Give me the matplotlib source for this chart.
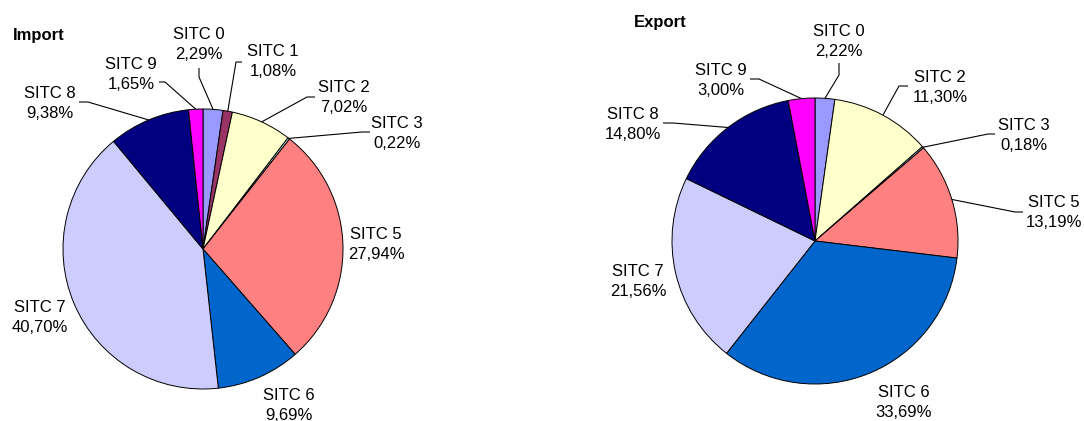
import numpy as np
import matplotlib
matplotlib.use("Agg")
import matplotlib.pyplot as plt

plt.rcParams['font.family'] = ['Liberation Sans', 'DejaVu Sans']

# ---- data ----
imp_categories = ['SITC 0', 'SITC 1', 'SITC 2', 'SITC 3', 'SITC 5', 'SITC 6', 'SITC 7', 'SITC 8', 'SITC 9']
imp_values = [2.29, 1.08, 7.02, 0.22, 27.94, 9.69, 40.70, 9.38, 1.65]

exp_categories = ['SITC 0', 'SITC 2', 'SITC 3', 'SITC 5', 'SITC 6', 'SITC 7', 'SITC 8', 'SITC 9']
exp_values = [2.22, 11.30, 0.18, 13.19, 33.69, 21.56, 14.80, 3.00]

colors = {'SITC 0': '#9999FF', 'SITC 1': '#993366', 'SITC 2': '#FFFFCC', 'SITC 3': '#CCFFFF',
          'SITC 5': '#FF8080', 'SITC 6': '#0066CC', 'SITC 7': '#CCCCFF', 'SITC 8': '#000080',
          'SITC 9': '#FF00FF'}

# ---- layout (pixel coordinates) ----
W, H = 1084, 421
imp_center, imp_radius = (203, 249), 140
exp_center, exp_radius = (815, 241), 143

imp_label_pos = {'SITC 0': (199, 43), 'SITC 1': (273, 60), 'SITC 2': (344, 96), 'SITC 3': (397, 132),
                 'SITC 5': (376, 243), 'SITC 6': (289, 404), 'SITC 7': (40, 316), 'SITC 8': (50, 102),
                 'SITC 9': (131, 73)}
imp_leaders = {'SITC 0': [(199, 77), (199, 68)], 'SITC 1': [(236, 62), (242, 62)],
               'SITC 2': [(307, 97), (315, 97)], 'SITC 3': [(362, 132), (370, 132)],
               'SITC 8': [(88, 102), (79, 102)], 'SITC 9': [(165, 82), (159, 82)]}

exp_label_pos = {'SITC 0': (839, 40), 'SITC 2': (940, 86), 'SITC 3': (1024, 134), 'SITC 5': (1054, 211),
                 'SITC 6': (904, 401), 'SITC 7': (638, 280), 'SITC 8': (633, 123), 'SITC 9': (721, 79)}
exp_leaders = {'SITC 0': [(839, 75), (839, 63)], 'SITC 2': [(899, 86), (908, 86)],
               'SITC 3': [(988, 134), (995, 134)], 'SITC 5': [(1015, 212), (1023, 212)],
               'SITC 8': [(673, 123), (663, 123)], 'SITC 9': [(759, 79), (750, 79)]}

FS = 12

fig = plt.figure(figsize=(W / 100, H / 100), dpi=100)
ax = fig.add_axes([0, 0, 1, 1])


def fmt(v):
    return f"{v:.2f}".replace('.', ',') + '%'


def draw_pie(cats, vals, center, radius, label_pos, leaders):
    ax.pie(vals, colors=[colors[c] for c in cats], center=center, radius=radius,
           startangle=-90, counterclock=True,
           wedgeprops=dict(edgecolor='black', linewidth=0.7))
    vals = np.asarray(vals, dtype=float)
    frac = vals / vals.sum()
    cum = np.cumsum(frac) - frac / 2
    for c, v, f in zip(cats, vals, cum):
        lx, ly = label_pos[c]
        ax.text(lx, ly - 4, c, ha='center', va='baseline', fontsize=FS, color='black')
        ax.text(lx, ly + 16, fmt(v), ha='center', va='baseline', fontsize=FS, color='black')
        if c in leaders:
            ang = 2 * np.pi * f
            ex = center[0] + radius * np.sin(ang)
            ey = center[1] - radius * np.cos(ang)
            pts = [(ex, ey)] + leaders[c]
            xs, ys = zip(*pts)
            ax.plot(xs, ys, color='black', linewidth=0.8, solid_capstyle='butt')


draw_pie(imp_categories, imp_values, imp_center, imp_radius, imp_label_pos, imp_leaders)
draw_pie(exp_categories, exp_values, exp_center, exp_radius, exp_label_pos, exp_leaders)

ax.text(13, 40, 'Import', fontsize=FS, fontweight='bold', ha='left', va='baseline')
ax.text(634, 27, 'Export', fontsize=FS, fontweight='bold', ha='left', va='baseline')

ax.set_xlim(0, W)
ax.set_ylim(H, 0)
ax.set_aspect('auto')
ax.axis('off')

fig.savefig('out.png', dpi=100, facecolor='white')
